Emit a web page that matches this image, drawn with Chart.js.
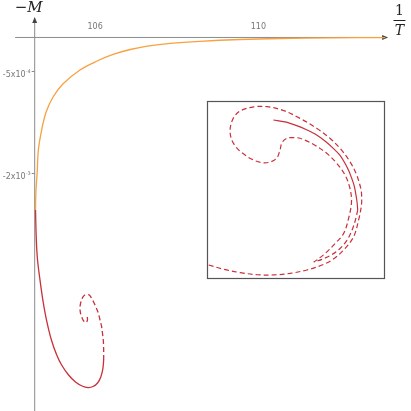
<!DOCTYPE html>
<html>
<head>
  <title>Magnetisation spiral</title>
  <script src="https://cdn.jsdelivr.net/npm/chart.js"></script>
  <style>
    body { margin: 0; background: #fff; }
    #wrap { width: 411px; height: 411px; }
  </style>
</head>
<body>
  <div id="wrap"><canvas id="myChart"></canvas></div>
  <script>
    // x = 1/T, y = -M in units of 1e-4
    const xTicks = [106, 110];
    const yTicks = [-5, -20];
    const yTickLabels = [['-5x10', '-4'], ['-2x10', '-3']];
    const yAxisAt = 104.52;

    const orangeCurve = [
      [113.11, -0.02], [111.76, -0.06], [110.53, -0.15], [109.55, -0.30], [108.57, -0.56],
      [107.84, -0.86], [107.32, -1.23], [106.86, -1.77], [106.44, -2.50], [106.05, -3.46],
      [105.63, -4.78], [105.21, -6.84], [104.97, -8.75], [104.80, -10.96], [104.69, -13.61],
      [104.61, -16.55], [104.58, -19.93], [104.55, -22.73], [104.54, -25.37]
    ];
    const redSolid = [
      [104.54, -25.37], [104.56, -29.78], [104.59, -32.73], [104.65, -35.67], [104.72, -38.61],
      [104.81, -41.55], [104.93, -44.49], [105.06, -46.70], [105.18, -48.17], [105.35, -49.64],
      [105.52, -50.67], [105.68, -51.25], [105.83, -51.48], [105.95, -51.33], [106.06, -50.81],
      [106.14, -49.93], [106.19, -48.75], [106.21, -47.43]
    ];
    const redDashed = [
      [106.21, -47.43], [106.21, -45.96], [106.20, -44.49], [106.18, -43.46], [106.16, -42.53],
      [106.12, -41.55], [106.08, -40.56], [106.02, -39.64], [105.96, -38.86], [105.91, -38.31],
      [105.86, -37.87], [105.80, -37.80], [105.75, -37.87], [105.70, -38.17], [105.67, -38.61],
      [105.64, -39.20], [105.63, -39.83], [105.64, -40.45], [105.67, -41.06], [105.71, -41.62],
      [105.77, -41.92], [105.81, -41.62], [105.81, -41.18], [105.78, -40.81]
    ];

    // inset, in its own 0..100 frame
    const insetOuter = [
      [0.8, 7.5], [9.3, 5.1], [18.6, 3.2], [28.1, 2.0], [37.5, 1.9], [46.9, 2.8], [56.3, 4.7],
      [63.8, 7.1], [70.5, 10.3], [77.1, 16.0], [82.7, 23.5], [85.5, 32.9], [87.1, 41.3],
      [87.2, 47.0], [86.7, 50.8], [84.4, 58.3], [80.6, 65.8], [75.0, 73.3], [69.3, 79.0],
      [61.8, 84.6], [52.4, 90.2], [43.2, 94.6], [33.7, 96.8], [26.2, 96.7], [18.6, 94.4],
      [14.9, 90.6], [13.0, 84.9], [13.4, 79.3], [15.8, 74.6], [19.6, 70.8], [25.3, 67.1],
      [30.9, 65.2], [35.6, 65.6], [39.4, 68.0], [41.2, 72.8], [42.2, 76.5], [45.0, 79.0],
      [48.8, 79.3], [52.4, 79.0], [59.9, 75.6], [67.5, 70.5], [73.1, 64.9], [77.8, 58.3],
      [80.6, 50.8], [81.5, 43.6], [80.3, 35.7], [77.1, 25.4], [72.3, 19.7], [66.7, 14.1],
      [60.1, 9.0]
    ];
    const insetSolid = [
      [37.3, 89.3], [43.9, 88.2], [50.5, 86.1], [55.8, 83.9], [61.8, 80.8], [66.5, 77.4],
      [71.2, 73.3], [75.0, 69.3], [77.8, 64.9], [80.0, 60.5], [81.6, 56.4], [82.9, 52.6],
      [83.7, 48.8], [84.6, 43.2], [85.0, 38.5]
    ];
    const insetMiddle = [
      [85.0, 38.5], [83.7, 32.9], [81.8, 27.2], [79.0, 21.6], [75.0, 16.8], [70.5, 13.4],
      [65.4, 10.9], [61.0, 9.4]
    ];

    const orange = '#f7a13f';
    const red = '#c9303a';
    const pts = arr => arr.map(p => ({ x: p[0], y: p[1] }));

    function series(data, color, dashed, inset) {
      return {
        data: pts(data),
        showLine: true,
        borderColor: color,
        borderWidth: inset ? 1.2 : 1.3,
        borderDash: dashed ? [5, 3] : [],
        pointRadius: 0,
        tension: 0.35,
        xAxisID: inset ? 'xi' : 'x',
        yAxisID: inset ? 'yi' : 'y'
      };
    }

    const decor = {
      id: 'decor',
      beforeDatasetsDraw(chart) {
        const ctx = chart.ctx;
        const xs = chart.scales.x, ys = chart.scales.y;
        const xi = chart.scales.xi, yi = chart.scales.yi;
        const y0 = ys.getPixelForValue(0);
        const x0 = xs.getPixelForValue(yAxisAt);
        const xEnd = xs.getPixelForValue(113.18);
        const yTop = ys.getPixelForValue(3.01);
        ctx.save();
        ctx.strokeStyle = '#8a8a8a';
        ctx.lineWidth = 1;
        ctx.beginPath();
        ctx.moveTo(xs.getPixelForValue(104.04), y0);
        ctx.lineTo(xEnd - 3, y0);
        ctx.moveTo(x0, chart.chartArea.bottom);
        ctx.lineTo(x0, yTop + 3);
        yTicks.forEach(v => {
          const py = Math.round(ys.getPixelForValue(v)) + 0.5;
          ctx.moveTo(x0 - 3, py);
          ctx.lineTo(x0, py);
        });
        ctx.stroke();
        ctx.fillStyle = '#444';
        ctx.beginPath();
        ctx.moveTo(xEnd, y0);
        ctx.lineTo(xEnd - 6, y0 - 2.5);
        ctx.lineTo(xEnd - 6, y0 + 2.5);
        ctx.closePath();
        ctx.moveTo(x0, yTop);
        ctx.lineTo(x0 - 2.5, yTop + 6);
        ctx.lineTo(x0 + 2.5, yTop + 6);
        ctx.closePath();
        ctx.fill();

        // inset frame
        const l = xi.getPixelForValue(0), r = xi.getPixelForValue(100);
        const t = yi.getPixelForValue(100), b = yi.getPixelForValue(0);
        ctx.strokeStyle = '#555';
        ctx.lineWidth = 1.2;
        ctx.strokeRect(Math.round(l) + 0.5, Math.round(t) + 0.5, Math.round(r - l), Math.round(b - t));

        // tick labels
        ctx.fillStyle = '#777';
        ctx.font = '8px "DejaVu Sans"';
        ctx.textAlign = 'center';
        ctx.textBaseline = 'middle';
        xTicks.forEach(v => ctx.fillText(String(v), xs.getPixelForValue(v), y0 - 11));
        yTicks.forEach((v, i) => {
          const py = ys.getPixelForValue(v) + 3;
          const [base, sup] = yTickLabels[i];
          ctx.font = '5px "DejaVu Sans"';
          const supW = ctx.measureText(sup).width;
          ctx.textAlign = 'right';
          ctx.fillText(sup, x0 - 4, py - 3);
          ctx.font = '8px "DejaVu Sans"';
          ctx.fillText(base, x0 - 4 - supW, py);
        });

        // axis titles
        ctx.fillStyle = '#222';
        ctx.textAlign = 'center';
        ctx.font = 'italic 15px "DejaVu Serif"';
        ctx.fillText('\u2212M', x0 - 6, 8);
        ctx.font = 'italic 14px "DejaVu Serif"';
        ctx.fillText('T', 399.5, 31);
        ctx.font = '14px "DejaVu Serif"';
        ctx.fillText('1', 399.5, 11);
        ctx.fillRect(393.5, 20, 12, 1);
        ctx.restore();
      }
    };

    const chartConfig = {
      type: 'scatter',
      data: {
        datasets: [
          series(orangeCurve, orange, false, false),
          series(redSolid, red, false, false),
          series(redDashed, red, true, false),
          series(insetOuter, red, true, true),
          series(insetSolid, red, false, true),
          series(insetMiddle, red, true, true)
        ]
      },
      options: {
        responsive: true,
        maintainAspectRatio: false,
        animation: false,
        layout: { padding: 0 },
        plugins: { legend: { display: false }, tooltip: { enabled: false } },
        scales: {
          x: { type: 'linear', display: false, min: 103.67, max: 113.74 },
          y: { type: 'linear', display: false, min: -54.93, max: 5.51 },
          xi: { type: 'linear', display: false, axis: 'x', min: -117.1, max: 115.1 },
          yi: { type: 'linear', display: false, axis: 'y', min: -74.85, max: 156.97 }
        }
      },
      plugins: [decor]
    };
    const myChart = new Chart(document.getElementById('myChart'), chartConfig);
  </script>
</body>
</html>
